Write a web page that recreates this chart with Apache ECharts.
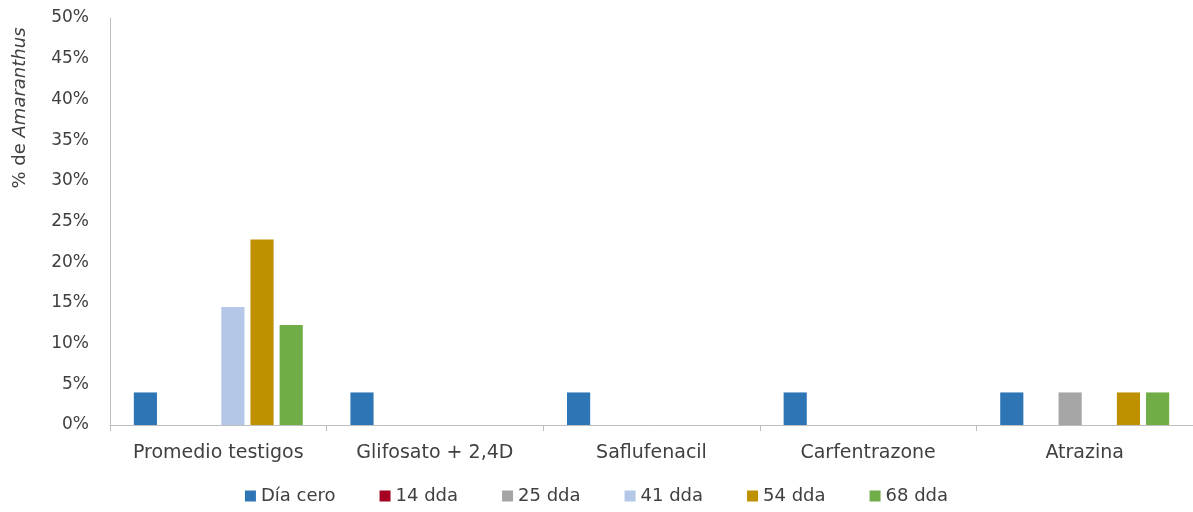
<!DOCTYPE html>
<html>
<head>
<meta charset="utf-8">
<script src="https://cdn.jsdelivr.net/npm/echarts@6/dist/echarts.min.js"></script>
<style>
  html, body { margin: 0; padding: 0; background: #fff; }
  #chart { width: 1193px; height: 512px; }
</style>
</head>
<body>
<div id="chart"></div>
<script>
// Treatments on the x axis
const categories = ['Promedio testigos', 'Glifosato + 2,4D', 'Saflufenacil', 'Carfentrazone', 'Atrazina'];
// Share of Amaranthus (%) per evaluation date
const diaCero = [4, 4, 4, 4, 4];
const dda14 = [0, 0, 0, 0, 0];
const dda25 = [0, 0, 0, 0, 4];
const dda41 = [14.5, 0, 0, 0, 0];
const dda54 = [22.8, 0, 0, 0, 4];
const dda68 = [12.3, 0, 0, 0, 4];
const seriesNames = ['Día cero', '14 dda', '25 dda', '41 dda', '54 dda', '68 dda'];
const seriesColors = ['#2E75B6', '#A50021', '#A5A5A5', '#B4C7E7', '#BF9000', '#70AD47'];
const seriesData = [diaCero, dda14, dda25, dda41, dda54, dda68];

const FONT = 'DejaVu Sans';
const TEXT = '#404040';

const chart = echarts.init(document.getElementById('chart'));
chart.setOption({
  animation: false,
  textStyle: { fontFamily: FONT },
  grid: { left: 110, right: 0, top: 18, bottom: 87 },
  legend: {
    bottom: 2,
    left: 'center',
    itemWidth: 11,
    itemHeight: 11,
    itemGap: 44,
    icon: 'rect',
    textStyle: { fontFamily: FONT, fontSize: 18, color: TEXT },
    data: seriesNames
  },
  xAxis: {
    type: 'category',
    data: categories,
    axisLine: { lineStyle: { color: '#BFBFBF', width: 1 } },
    axisTick: { show: true, length: 6, lineStyle: { color: '#BFBFBF' } },
    axisLabel: { interval: 0, fontFamily: FONT, fontSize: 19, color: TEXT, margin: 19 }
  },
  yAxis: {
    type: 'value',
    min: 0,
    max: 0.5,
    interval: 0.05,
    axisLine: { show: true, lineStyle: { color: '#BFBFBF', width: 1 } },
    axisTick: { show: false },
    splitLine: { show: false },
    axisLabel: {
      fontFamily: FONT, fontSize: 17, color: TEXT, margin: 21,
      formatter: v => Math.round(v * 100) + '%'
    }
  },
  graphic: [{
    type: 'text',
    x: 20,
    y: 108,
    rotation: Math.PI / 2,
    style: {
      text: '{a|% de }{b|Amaranthus}',
      rich: {
        a: { fontFamily: FONT, fontSize: 18, fill: TEXT },
        b: { fontFamily: FONT, fontSize: 18, fontStyle: 'italic', fill: TEXT }
      },
      align: 'center',
      verticalAlign: 'middle'
    }
  }],
  series: seriesNames.map((name, i) => ({
    name,
    type: 'bar',
    barGap: '26%',
    barCategoryGap: '22%',
    itemStyle: { color: seriesColors[i] },
    data: seriesData[i].map(v => v / 100)
  }))
});
</script>
</body>
</html>
